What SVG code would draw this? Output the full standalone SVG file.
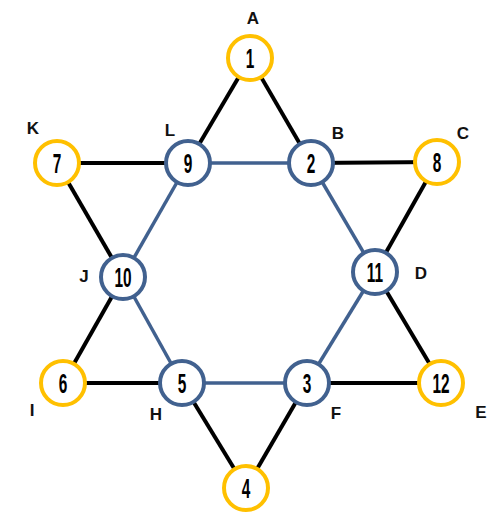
<svg xmlns="http://www.w3.org/2000/svg" width="502" height="512" viewBox="0 0 502 512">
<style>
.bk{stroke:#000;stroke-width:4;fill:none}
.bl{stroke:#41618F;stroke-width:3.5;fill:none}
.y{fill:#fff;stroke:#FFC000;stroke-width:4}
.b{fill:#fff;stroke:#41618F;stroke-width:4}
.n{font-family:"Liberation Sans",Arial,sans-serif;font-weight:bold;font-size:28px;fill:#000;text-anchor:middle}
.l{font-family:"Liberation Sans",Arial,sans-serif;font-weight:bold;font-size:17px;fill:#111;text-anchor:middle}
</style>
<rect width="502" height="512" fill="#fff"/>
<g id="connectors">
<line class="bk" x1="250" y1="58" x2="188" y2="163"/>
<line class="bk" x1="250" y1="58" x2="311" y2="163"/>
<line class="bl" x1="188" y1="163" x2="311" y2="163"/>
<line class="bk" x1="57" y1="163" x2="188" y2="163"/>
<line class="bk" x1="311" y1="163" x2="437" y2="162"/>
<line class="bk" x1="57" y1="163" x2="123" y2="277"/>
<line class="bk" x1="437" y1="162" x2="375" y2="272"/>
<line class="bl" x1="188" y1="163" x2="123" y2="277"/>
<line class="bl" x1="311" y1="163" x2="375" y2="272"/>
<line class="bk" x1="123" y1="277" x2="63" y2="383"/>
<line class="bk" x1="375" y1="272" x2="441" y2="383"/>
<line class="bl" x1="123" y1="277" x2="182" y2="383"/>
<line class="bl" x1="375" y1="272" x2="307" y2="383"/>
<line class="bk" x1="63" y1="383" x2="182" y2="383"/>
<line class="bk" x1="307" y1="383" x2="441" y2="383"/>
<line class="bl" x1="182" y1="383" x2="307" y2="383"/>
<line class="bk" x1="182" y1="383" x2="246" y2="488"/>
<line class="bk" x1="307" y1="383" x2="246" y2="488"/>
</g>
<g id="n1"><circle class="y" cx="250" cy="58" r="22"/><text class="n" transform="translate(250,68) scale(0.55,1)">1</text><text class="l" x="253" y="24">A</text></g>
<g id="n2"><circle class="b" cx="311" cy="163" r="22"/><text class="n" transform="translate(311,173) scale(0.55,1)">2</text><text class="l" x="338" y="139">B</text></g>
<g id="n8"><circle class="y" cx="437" cy="162" r="22"/><text class="n" transform="translate(437,172) scale(0.55,1)">8</text><text class="l" x="463" y="139">C</text></g>
<g id="n11"><circle class="b" cx="375" cy="272" r="22"/><text class="n" transform="translate(375,282) scale(0.55,1)">11</text><text class="l" x="421" y="279">D</text></g>
<g id="n12"><circle class="y" cx="441" cy="383" r="22"/><text class="n" transform="translate(441,393) scale(0.55,1)">12</text><text class="l" x="481" y="418">E</text></g>
<g id="n3"><circle class="b" cx="307" cy="383" r="22"/><text class="n" transform="translate(307,393) scale(0.55,1)">3</text><text class="l" x="336" y="419">F</text></g>
<g id="n4"><circle class="y" cx="246" cy="488" r="22"/><text class="n" transform="translate(246,498) scale(0.55,1)">4</text></g>
<g id="n5"><circle class="b" cx="182" cy="383" r="22"/><text class="n" transform="translate(182,393) scale(0.55,1)">5</text><text class="l" x="156" y="420">H</text></g>
<g id="n6"><circle class="y" cx="63" cy="383" r="22"/><text class="n" transform="translate(63,393) scale(0.55,1)">6</text><text class="l" x="32" y="416">I</text></g>
<g id="n10"><circle class="b" cx="123" cy="277" r="22"/><text class="n" transform="translate(123,287) scale(0.55,1)">10</text><text class="l" x="84" y="282">J</text></g>
<g id="n7"><circle class="y" cx="57" cy="163" r="22"/><text class="n" transform="translate(57,173) scale(0.55,1)">7</text><text class="l" x="33" y="134">K</text></g>
<g id="n9"><circle class="b" cx="188" cy="163" r="22"/><text class="n" transform="translate(188,173) scale(0.55,1)">9</text><text class="l" x="170" y="136">L</text></g>
</svg>
